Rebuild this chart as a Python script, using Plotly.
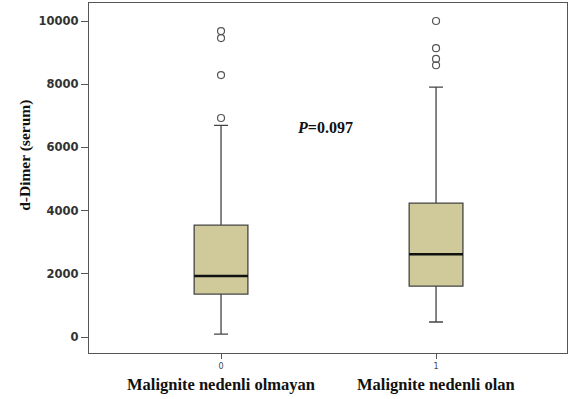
import plotly.graph_objects as go

# Data
positions = [0, 1]
tick_labels = ["0", "1"]
group_names = ["Malignite nedenli olmayan", "Malignite nedenli olan"]
y_ticks = [0, 2000, 4000, 6000, 8000, 10000]
y_tick_labels = ["0", "2000", "4000", "6000", "8000", "10000"]
q1 = [1360, 1610]
median = [1930, 2620]
q3 = [3540, 4240]
lower_whisker = [90, 475]
upper_whisker = [6700, 7910]
outliers = [[6930, 8290, 9460, 9680], [8600, 8800, 9140, 10000]]

BOX_W = 0.25
FILL = "#D0CA9B"
EDGE = "#444444"

fig = go.Figure()
for i, p in enumerate(positions):
    fig.add_trace(go.Box(
        x=[p], q1=[q1[i]], median=[median[i]], q3=[q3[i]],
        lowerfence=[lower_whisker[i]], upperfence=[upper_whisker[i]],
        width=BOX_W, whiskerwidth=0.26, fillcolor=FILL,
        line=dict(color=EDGE, width=1.3), boxpoints=False,
        showlegend=False, hoverinfo="skip",
    ))
    # thick median line
    fig.add_trace(go.Scatter(
        x=[p - BOX_W / 2, p + BOX_W / 2], y=[median[i], median[i]],
        mode="lines", line=dict(color="#111111", width=2.4),
        showlegend=False, hoverinfo="skip",
    ))
    fig.add_trace(go.Scatter(
        x=[p] * len(outliers[i]), y=outliers[i], mode="markers",
        marker=dict(symbol="circle-open", size=7, color="#555555", line=dict(width=1.2)),
        showlegend=False, hoverinfo="skip",
    ))

fig.update_layout(
    width=570, height=399,
    margin=dict(l=89, r=3, t=3, b=46),
    paper_bgcolor="white", plot_bgcolor="white",
    xaxis=dict(
        range=[-0.614, 1.609], tickmode="array", tickvals=positions, ticktext=tick_labels,
        showgrid=False, zeroline=False, showline=True, linecolor="#555555", linewidth=1.2,
        mirror=True, ticks="outside", ticklen=5, tickcolor="#555555",
        tickfont=dict(family="DejaVu Sans", size=8, color="#444444"),
    ),
    yaxis=dict(
        range=[-506, 10570], tickmode="array", tickvals=y_ticks, ticktext=y_tick_labels,
        showgrid=False, zeroline=False, showline=True, linecolor="#555555", linewidth=1.2,
        mirror=True, ticks="outside", ticklen=7, tickcolor="#555555",
        tickfont=dict(family="DejaVu Sans", size=11.5, color="#333333", weight="bold"),
    ),
)

for i, p in enumerate(positions):
    fig.add_annotation(
        x=p, xref="x", y=-0.091, yref="paper", yanchor="middle", xanchor="center",
        text="<b>" + group_names[i] + "</b>", showarrow=False,
        font=dict(family="Liberation Serif", size=16.5, color="#111111"),
    )

fig.add_annotation(
    x=-0.134, xref="paper", y=0.566, yref="paper", textangle=-90,
    xanchor="center", yanchor="middle",
    text="<b>d-Dimer (serum)</b>", showarrow=False,
    font=dict(family="Liberation Serif", size=15.5, color="#111111"),
)

fig.add_annotation(
    x=0.485, xref="x", y=6630, yref="y", xanchor="center",
    text="<b><i>P</i>=0.097</b>", showarrow=False,
    font=dict(family="Liberation Serif", size=16, color="#111111"),
)

fig.write_html("out.html", config={"displayModeBar": False},
               post_script="document.body.style.margin='0';")
